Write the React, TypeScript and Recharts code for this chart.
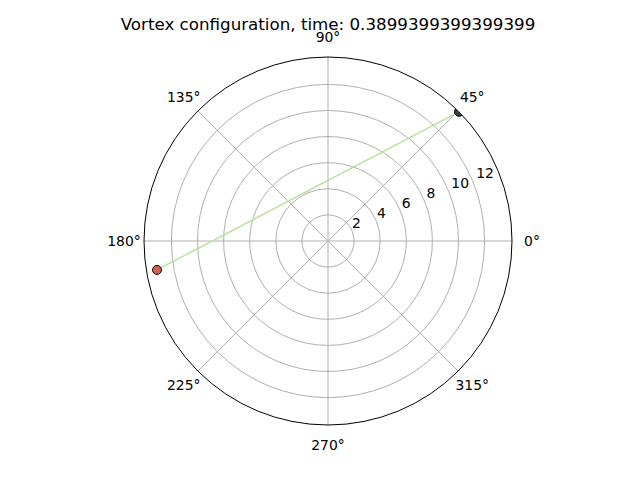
import {
  RadarChart,
  PolarGrid,
  PolarAngleAxis,
  PolarRadiusAxis,
  ScatterChart,
  Scatter,
  XAxis,
  YAxis,
  Cell,
} from 'recharts';

const angleLabels = ['0°', '45°', '90°', '135°', '180°', '225°', '270°', '315°'];
const gridAngles = [0, 45, 90, 135, 180, 225, 270, 315];
const radiusTicks = [2, 4, 6, 8, 10, 12];

// vortex positions, polar (r, theta in degrees)
const vortexR = [14.1, 13.29];
const vortexTheta = [44.6, 189.6];
const vortexColors = ['#3f3f3f', '#d1604f'];

const R_MAX = 14.1;
const CX = 328;
const CY = 241;
const OUTER = 184;
const K = OUTER / R_MAX; // px per unit
const W = 640;
const H = 480;
const FONT = '"DejaVu Sans", sans-serif';

const angleData = angleLabels.map((a) => ({ angle: a, r: 0 }));

const points = vortexR.map((r, i) => {
  const t = (vortexTheta[i] * Math.PI) / 180;
  return { x: r * Math.cos(t), y: r * Math.sin(t) };
});

const AngleTick = (props: any) => {
  const { x, y, payload } = props;
  return (
    <text x={x} y={y} textAnchor="middle" dominantBaseline="central" fontSize={13.9} fontFamily={FONT} fill="#000">
      {payload.value}
    </text>
  );
};

const RadiusTick = (props: any) => {
  const { x, y, payload } = props;
  const r = Number(payload.value);
  if (!radiusTicks.includes(r)) return <g />;
  return (
    <text x={x - 0.7 + r * 0.35} y={y - 3} textAnchor="start" fontSize={13.9} fontFamily={FONT} fill="#000">
      {payload.value}
    </text>
  );
};

const Dot = (props: any) => {
  const { cx, cy, fill } = props;
  return <circle cx={cx} cy={cy} r={4.5} fill={fill} stroke="#000" strokeWidth={1} />;
};

export default function App() {
  return (
    <div style={{ position: 'absolute', left: 0, top: 0, width: W, height: H, background: '#fff' }}>
      <div
        style={{
          position: 'absolute',
          left: 0,
          top: 16,
          width: 656,
          textAlign: 'center',
          fontFamily: FONT,
          fontSize: 16.7,
          lineHeight: 1,
          color: '#000',
        }}
      >
        Vortex configuration, time: 0.3899399399399399
      </div>
      <div style={{ position: 'absolute', left: 0, top: 0 }}>
        <RadarChart
          width={W}
          height={H}
          data={angleData}
          cx={CX}
          cy={CY}
          outerRadius={OUTER}
          startAngle={45}
          endAngle={405}
          margin={{ top: 0, right: 0, bottom: 0, left: 0 }}
        >
          <PolarGrid
            gridType="circle"
            polarRadius={radiusTicks.map((t) => t * K)}
            polarAngles={gridAngles}
            stroke="#b0b0b0"
            strokeWidth={1}
          />
          <PolarGrid gridType="circle" polarRadius={[OUTER]} polarAngles={[]} stroke="#000" strokeWidth={1} />
          <PolarAngleAxis dataKey="angle" tick={<AngleTick />} tickLine={false} axisLine={false} tickSize={20} />
          <PolarRadiusAxis
            type="number"
            dataKey="r"
            angle={22.5}
            domain={[0, R_MAX]}
            allowDataOverflow
            ticks={radiusTicks}
            tick={<RadiusTick />}
            axisLine={false}
            tickLine={false}
          />
        </RadarChart>
      </div>
      <div
        style={{
          position: 'absolute',
          left: 0,
          top: 0,
          clipPath: `circle(${OUTER}px at ${CX}px ${CY}px)`,
        }}
      >
        <ScatterChart width={W} height={H} margin={{ top: 0, right: 0, bottom: 0, left: 0 }}>
          <XAxis type="number" dataKey="x" hide domain={[-CX / K, (W - CX) / K]} allowDataOverflow />
          <YAxis type="number" dataKey="y" hide domain={[-(H - CY) / K, CY / K]} allowDataOverflow />
          <Scatter
            data={points}
            line={{ stroke: '#b9e29a', strokeWidth: 1.5 }}
            shape={<Dot />}
            isAnimationActive={false}
          >
            {points.map((_, i) => (
              <Cell key={i} fill={vortexColors[i]} />
            ))}
          </Scatter>
        </ScatterChart>
      </div>
    </div>
  );
}
